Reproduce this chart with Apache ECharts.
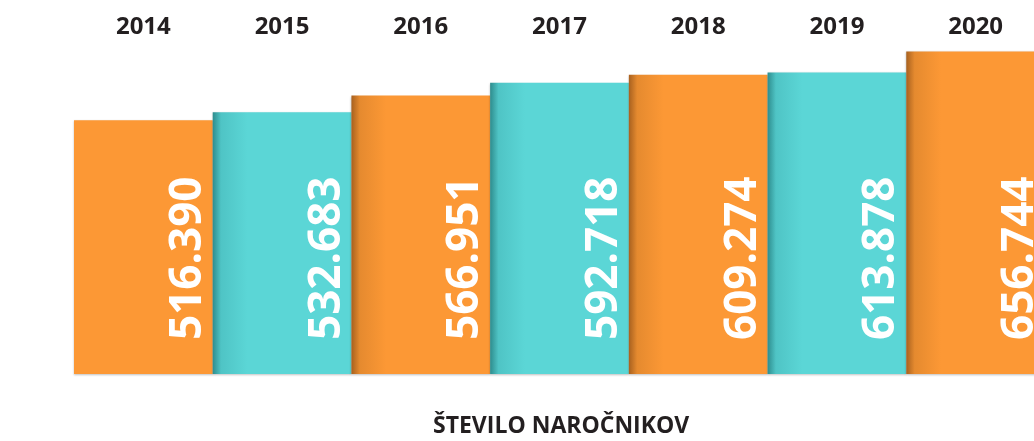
<!DOCTYPE html>
<html>
<head>
<meta charset="utf-8">
<script src="https://cdn.jsdelivr.net/npm/echarts@6/dist/echarts.min.js"></script>
<style>
  html, body { margin: 0; padding: 0; background: #fff; }
  #chart { width: 1034px; height: 441px; }
</style>
</head>
<body>
<div id="chart"></div>
<script>
// data
const years = ['2014', '2015', '2016', '2017', '2018', '2019', '2020'];
const subscribers = [516390, 532683, 566951, 592718, 609274, 613878, 656744];
const valueLabels = ['516.390', '532.683', '566.951', '592.718', '609.274', '613.878', '656.744'];

const ORANGE = '#fc9835';
const TEAL = '#5bd6d6';

function barFill(i) {
  const base = i % 2 === 0 ? ORANGE : TEAL;
  if (i === 0) return base;
  // darker strip on the left edge, like the shadow of the previous bar
  const dark = i % 2 === 0 ? '#a8611f' : '#2e8d8e';
  const mid = i % 2 === 0 ? '#e58a2f' : '#4fc4c5';
  return {
    type: 'linear', x: 0, y: 0, x2: 1, y2: 0,
    colorStops: [
      { offset: 0, color: dark },
      { offset: 0.06, color: mid },
      { offset: 0.25, color: base },
      { offset: 1, color: base }
    ]
  };
}

const chart = echarts.init(document.getElementById('chart'));

chart.setOption({
  animation: false,
  title: {
    text: 'ŠTEVILO NAROČNIKOV',
    left: 428,
    top: 410,
    textStyle: {
      fontFamily: 'Open Sans',
      fontWeight: 'bold',
      fontSize: 23,
      color: '#231f20'
    }
  },
  grid: { left: 74, width: 971, top: 40, bottom: 67, outerBoundsMode: 'none' },
  xAxis: {
    type: 'category',
    position: 'top',
    data: years,
    axisLine: { show: false },
    axisTick: { show: false },
    axisLabel: {
      margin: 1,
      fontFamily: 'Open Sans',
      fontWeight: 'bold',
      fontSize: 24,
      color: '#231f20'
    }
  },
  yAxis: {
    type: 'value',
    min: 0,
    max: 680000,
    show: false,
    splitLine: { show: false }
  },
  series: [{
    type: 'bar',
    barCategoryGap: 0,
    data: subscribers.map((v, i) => ({
      value: v,
      itemStyle: { color: barFill(i) }
    })),
    itemStyle: {
      shadowColor: 'rgba(0,0,0,0.25)',
      shadowBlur: 2,
      shadowOffsetY: 1
    },
    label: {
      show: true,
      position: 'insideBottom',
      distance: 34,
      rotate: 90,
      align: 'left',
      verticalAlign: 'middle',
      offset: [0, 45],
      formatter: p => valueLabels[p.dataIndex],
      fontFamily: 'Open Sans',
      fontWeight: 'bold',
      fontSize: 44,
      color: '#fff'
    }
  }]
});
</script>
</body>
</html>
